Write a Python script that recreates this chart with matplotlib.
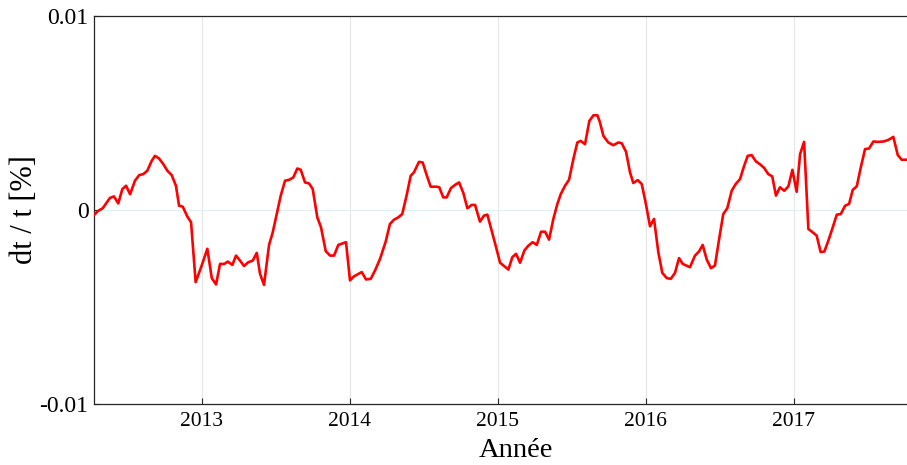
import matplotlib
matplotlib.use("Agg")
import matplotlib.pyplot as plt

plt.rcParams['font.family'] = ['Liberation Serif', 'DejaVu Serif']

years = [
    2012.272, 2012.301, 2012.331, 2012.380, 2012.407, 2012.436, 2012.464, 2012.489, 2012.516, 2012.549,
    2012.578, 2012.605, 2012.632, 2012.662, 2012.684, 2012.711, 2012.741, 2012.768, 2012.797, 2012.826,
    2012.847, 2012.872, 2012.903, 2012.928, 2012.959, 2013.000, 2013.038, 2013.068, 2013.097, 2013.124,
    2013.153, 2013.176, 2013.207, 2013.232, 2013.259, 2013.286, 2013.315, 2013.345, 2013.372, 2013.394,
    2013.421, 2013.455, 2013.480, 2013.507, 2013.534, 2013.563, 2013.592, 2013.619, 2013.646, 2013.669,
    2013.698, 2013.725, 2013.750, 2013.781, 2013.806, 2013.838, 2013.867, 2013.894, 2013.923, 2013.975,
    2014.002, 2014.029, 2014.081, 2014.110, 2014.142, 2014.171, 2014.205, 2014.243, 2014.272, 2014.299,
    2014.328, 2014.355, 2014.385, 2014.412, 2014.434, 2014.468, 2014.493, 2014.520, 2014.547, 2014.588,
    2014.605, 2014.632, 2014.655, 2014.684, 2014.711, 2014.739, 2014.768, 2014.795, 2014.824, 2014.847,
    2014.880, 2014.907, 2014.930, 2014.959, 2014.989, 2015.016, 2015.043, 2015.072, 2015.099, 2015.124,
    2015.151, 2015.180, 2015.207, 2015.236, 2015.264, 2015.293, 2015.320, 2015.347, 2015.376, 2015.403,
    2015.426, 2015.455, 2015.482, 2015.511, 2015.538, 2015.561, 2015.590, 2015.619, 2015.647, 2015.674,
    2015.691, 2015.714, 2015.747, 2015.781, 2015.815, 2015.838, 2015.867, 2015.894, 2015.916, 2015.946,
    2015.973, 2016.000, 2016.029, 2016.056, 2016.085, 2016.112, 2016.142, 2016.169, 2016.198, 2016.225,
    2016.250, 2016.299, 2016.333, 2016.360, 2016.385, 2016.412, 2016.441, 2016.468, 2016.497, 2016.524,
    2016.551, 2016.581, 2016.608, 2016.637, 2016.664, 2016.689, 2016.716, 2016.745, 2016.772, 2016.801,
    2016.828, 2016.855, 2016.880, 2016.907, 2016.936, 2016.964, 2016.991, 2017.020, 2017.043, 2017.070,
    2017.099, 2017.128, 2017.155, 2017.182, 2017.207, 2017.234, 2017.264, 2017.291, 2017.318, 2017.347,
    2017.374, 2017.399, 2017.426, 2017.453, 2017.482, 2017.509, 2017.538, 2017.572, 2017.605, 2017.639,
    2017.673, 2017.703, 2017.730, 2017.759, 2017.790,
]

dt_over_t = [
    -0.00026, -0.00004, 0.00009, 0.00062, 0.00070, 0.00034, 0.00108, 0.00125, 0.00081, 0.00151,
    0.00180, 0.00185, 0.00202, 0.00253, 0.00279, 0.00266, 0.00236, 0.00202, 0.00180, 0.00125,
    0.00022, 0.00017, -0.00034, -0.00063, -0.00372, -0.00286, -0.00200, -0.00351, -0.00384, -0.00278,
    -0.00278, -0.00266, -0.00283, -0.00235, -0.00261, -0.00289, -0.00269, -0.00261, -0.00221, -0.00329,
    -0.00386, -0.00180, -0.00115, -0.00021, 0.00074, 0.00151, 0.00156, 0.00168, 0.00214, 0.00207,
    0.00142, 0.00137, 0.00108, -0.00038, -0.00089, -0.00212, -0.00235, -0.00235, -0.00180, -0.00166,
    -0.00363, -0.00342, -0.00320, -0.00358, -0.00355, -0.00312, -0.00252, -0.00163, -0.00072, -0.00050,
    -0.00038, -0.00021, 0.00077, 0.00176, 0.00194, 0.00248, 0.00245, 0.00180, 0.00120, 0.00120,
    0.00117, 0.00065, 0.00065, 0.00113, 0.00129, 0.00142, 0.00087, 0.00009, 0.00026, 0.00026,
    -0.00060, -0.00029, -0.00024, -0.00106, -0.00192, -0.00272, -0.00289, -0.00307, -0.00243, -0.00226,
    -0.00272, -0.00209, -0.00184, -0.00166, -0.00180, -0.00112, -0.00112, -0.00153, -0.00046, 0.00031,
    0.00082, 0.00125, 0.00156, 0.00262, 0.00348, 0.00356, 0.00339, 0.00459, 0.00488, 0.00488,
    0.00451, 0.00382, 0.00348, 0.00334, 0.00348, 0.00344, 0.00300, 0.00194, 0.00139, 0.00154,
    0.00134, 0.00036, -0.00084, -0.00046, -0.00217, -0.00324, -0.00351, -0.00355, -0.00324, -0.00248,
    -0.00278, -0.00295, -0.00235, -0.00214, -0.00180, -0.00255, -0.00300, -0.00286, -0.00145, -0.00021,
    0.00009, 0.00099, 0.00134, 0.00159, 0.00225, 0.00279, 0.00283, 0.00250, 0.00236, 0.00216,
    0.00185, 0.00173, 0.00074, 0.00117, 0.00099, 0.00122, 0.00207, 0.00094, 0.00288, 0.00351,
    -0.00098, -0.00115, -0.00132, -0.00217, -0.00214, -0.00158, -0.00089, -0.00024, -0.00021, 0.00022,
    0.00031, 0.00104, 0.00122, 0.00219, 0.00314, 0.00317, 0.00353, 0.00351, 0.00353, 0.00361,
    0.00377, 0.00283, 0.00259, 0.00259, 0.00262,
]

xticks = [2013, 2014, 2015, 2016, 2017]
xtick_labels = ['2013', '2014', '2015', '2016', '2017']
yticks = [-0.01, 0, 0.01]
ytick_labels = ['-0.01', '0', '0.01']

fig = plt.figure(figsize=(9.07, 4.65), dpi=100)
# the reference axes run past the right edge of the image
ax = fig.add_axes([0.1036, 0.1312, 0.9306, 0.8344])

for x in xticks:
    ax.axvline(x, color='#e6e6e6', lw=0.8, zorder=0)
ax.axhline(0, color='#dcf2fb', lw=0.8, zorder=0)

ax.plot(years, dt_over_t, color='#ff0000', lw=1.9, zorder=3)

ax.set_xlim(2012.272, 2017.975)
ax.set_ylim(-0.01, 0.01)
ax.set_xticks(xticks)
ax.set_xticklabels(xtick_labels, fontsize=15.5)
ax.set_yticks(yticks)
ax.set_yticklabels(ytick_labels, fontsize=17)
ax.tick_params(direction='in', length=4, width=0.8, color='#262626', pad=6)
ax.tick_params(axis='y', pad=4)
ax.spines['right'].set_visible(False)
for s in ['left', 'top', 'bottom']:
    ax.spines[s].set_color('#262626')
    ax.spines[s].set_linewidth(0.9)

ax.set_xlabel('Année', fontsize=20.5, labelpad=5)
ax.set_ylabel('dt / t [%]', fontsize=22, labelpad=0)

fig.savefig('out.png', dpi=100)
